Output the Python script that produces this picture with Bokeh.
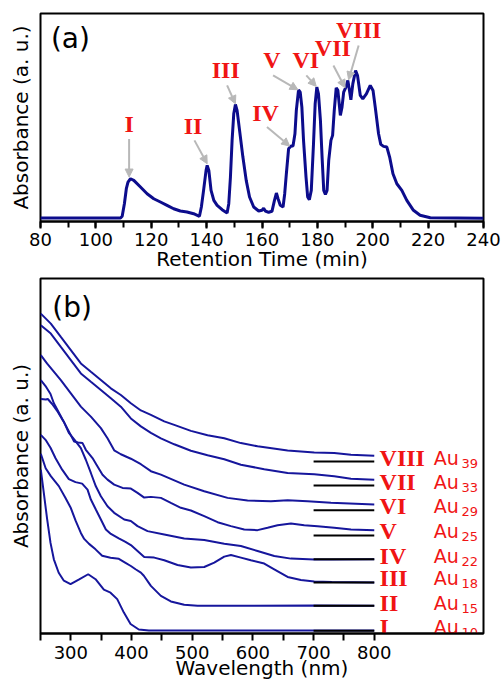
from bokeh.plotting import figure
from bokeh.layouts import column
from bokeh.models import (ColumnDataSource, Arrow, NormalHead, FixedTicker,
                          SingleIntervalTicker, Range1d)
from bokeh.core.properties import value
from bokeh.embed import file_html
from bokeh.resources import INLINE

# ---------------- (a) chromatogram ----------------
retention_time = [80, 108.9, 109.5, 110.3, 111.0, 111.6, 112.5, 113.7, 116.1, 118.5, 120.9,
                  123.3, 125.7, 128.1, 130.5, 132.9, 135.3, 137.4, 138.1, 138.9, 139.8, 140.2,
                  140.8, 141.6, 142.6, 143.8, 145.6, 147.4, 148.0, 148.6, 149.2, 149.8, 150.4,
                  151.0, 151.9, 153.1, 154.3, 155.5, 157.0, 158.8, 160.0, 160.6, 161.2, 162.4,
                  163.6, 164.5, 165.2, 165.8, 166.6, 167.6, 168.2, 168.8, 169.6, 170.5, 171.2,
                  171.9, 172.4, 173.2, 173.8, 174.4, 175.0, 175.9, 176.5, 177.1, 177.8, 178.6,
                  179.2, 179.8, 180.4, 181.1, 181.7, 182.3, 182.9, 183.5, 184.1, 184.9, 185.5,
                  186.1, 186.8, 187.4, 188.3, 188.9, 189.5, 190.3, 191.0, 191.6, 192.1, 192.8,
                  193.8, 194.5, 195.5, 196.4, 197.7, 199.1, 200.1, 200.9, 202.1, 202.9, 203.9,
                  205.1, 206.1, 207.3, 208.7, 210.5, 212.3, 214.7, 217.1, 220.8, 240]
absorbance_a = [0, 0, 1.7, 14.3, 29.3, 36, 39.3, 37.7, 31, 24.3, 19.3,
                16, 12.7, 9.3, 7, 6, 4.3, 1.7, 11, 27.7, 47.7, 52.7,
                47.7, 27.7, 17.7, 12.7, 8.3, 5, 14.3, 41, 77.7, 104.3, 113.7,
                107.7, 87.7, 61, 37.7, 21, 11, 7, 7.7, 9.7, 7, 5.7,
                6.7, 17.7, 25, 19.3, 12.7, 11, 24.3, 44.3, 69.3, 72, 72,
                84.3, 107.7, 128.3, 126, 111, 77.7, 41, 21, 18.3, 27.7, 74.3,
                114.3, 131, 124.3, 97.7, 61, 27.7, 23.7, 27.7, 57.7, 77.7, 82.7,
                107.7, 130.3, 127.7, 102.7, 111, 126, 131, 137.7, 127.7, 118.3, 134.3,
                147.7, 142.7, 122.7, 119.3, 124.3, 132.7, 127.7, 111, 84.3, 73.7, 71.7,
                71, 61, 44.3, 34.3, 27.7, 17.7, 7.7, 2.7, 0.3, -0.3]

fraction_names = ["I", "II", "III", "IV", "V", "VI", "VII", "VIII"]
# label anchors (a) and arrows (a)
frac_label_x = [112.0, 135.1, 146.9, 161.3, 163.6, 175.8, 185.6, 194.9]
frac_label_y = [94.0, 92.3, 147.7, 105.3, 157.7, 157.7, 170.0, 188.5]
arrow_x0 = [112.0, 135.6, 147.4, 161.8, 164.0, 176.0, 185.8, 194.9]
arrow_y0 = [79.0, 77.7, 132.7, 91.0, 142.7, 142.7, 152.7, 172.7]
arrow_x1 = [112.0, 140.2, 150.4, 170.0, 173.0, 179.6, 190.0, 191.3]
arrow_y1 = [41.0, 54.3, 114.3, 72.0, 128.3, 131.7, 130.3, 138.3]

# ---------------- (b) UV-vis spectra ----------------
wl_I = [250.5, 255.5, 261, 266.5, 272, 280, 288.5, 299.5, 313, 328.6, 340.7, 354.4, 365.4,
        376.4, 387.4, 398.4, 412, 428.6, 500, 600, 700, 800]
ab_I = [164.5, 141, 114.5, 91, 74.5, 61, 53, 49.5, 54, 59.5, 54.5, 44, 41,
        34.5, 21, 9.5, 4, 3, 3, 3, 3, 3]

wl_II = [250.5, 258.5, 267, 280.2, 291.2, 300, 308, 316.5, 322, 330, 340.7, 351.6, 365.4,
         379.1, 390.1, 398.9, 406.6, 415.4, 420.3, 431.9, 448.4, 464.8, 486.8, 508.8, 600, 700, 800]
ab_II = [180.5, 166, 158, 148, 136, 126, 113, 101, 95, 90, 84.5, 78, 76,
         75, 71, 67.8, 64.5, 61.2, 58, 47.8, 37.8, 32.2, 28.8, 27.8, 27.8, 28, 27.8]

wl_III = [250.5, 258.3, 266.5, 274.8, 285.7, 296.7, 307.7, 318.6, 327.5, 333, 341.2, 349.5,
          357.7, 366, 379, 390, 398.9, 409.9, 420.9, 437.4, 453.9, 475.8, 497.8, 519.8, 536.3,
          552.8, 563.8, 580.2, 596.7, 618.7, 635.2, 657.2, 679.1, 701.1, 730, 800]
ab_III = [199.5, 194.5, 186.5, 176, 164.5, 155, 152, 150.5, 144.5, 134.5, 124.5, 114.5,
          104.5, 100, 95.5, 92, 88.8, 82.8, 76.8, 76.2, 73.5, 68.8, 66.2, 66.8, 71.2,
          77.2, 78.8, 76.2, 73.5, 70.2, 64.5, 56.8, 53.8, 52.2, 51.8, 51.2]

wl_IV = [250.5, 258.8, 262, 264.9, 267, 269.2, 278.6, 288.5, 296.7, 305.5, 316.5, 324.7, 333,
         341.2, 349.5, 360.4, 371.4, 387.9, 398.9, 409.9, 426.4, 453.9, 486.8, 519.8, 552.8,
         580.2, 607.7, 635.2, 662.7, 701.1, 730, 800]
ab_IV = [235.5, 235, 235.5, 233.5, 232, 230.5, 222.5, 212.5, 201.5, 195, 186.2, 174.5, 161.2,
         147.8, 137.8, 127.8, 121.2, 114.5, 113, 107.8, 102.8, 99.5, 95.5, 93.8, 90.2,
         87.8, 82.8, 77.8, 75.2, 74.2, 74.2, 74.5]

wl_V = [250.5, 258.3, 266.5, 272, 286.8, 305.4, 312, 319.3, 324.7, 335.7, 344, 352.2, 360.4,
        371.4, 385.2, 398.9, 409.9, 420.9, 431.9, 448.4, 464.8, 481.3, 497.8, 519.8, 541.8,
        563.8, 585.7, 607.7, 624.2, 640.7, 662.7, 684.6, 706.6, 734, 761.6, 800]
ab_V = [254.5, 248.5, 240.5, 231.2, 214.5, 192.8, 191.8, 191.2, 184.5, 176.2, 167.8, 159.5, 154.5,
        149.5, 146.2, 145.5, 141.2, 136.5, 137.2, 136.2, 131.2, 126.2, 123.5, 117.8, 111.8,
        107.8, 104.5, 103.8, 106.2, 108.8, 110.5, 108.8, 107.8, 106.2, 104.5, 103.8]

wl_VI = [250.5, 261, 269.2, 283.5, 300, 316.5, 333, 349.5, 360.4, 371.4, 382.4, 398.9, 415.4,
         431.9, 448.4, 486.8, 519.8, 558.3, 591.2, 629.7, 657.2, 690.1, 728.6, 800]
ab_VI = [279.5, 271, 265, 254.5, 241.2, 227.8, 217.8, 206.2, 196, 184, 180, 175.5, 170,
         163, 159.5, 149.5, 142.8, 136.2, 133.5, 132.8, 133.8, 132.8, 131.2, 129.5]

wl_VII = [250.5, 267, 283.5, 300, 316.5, 333, 349.5, 365.9, 382.4, 398.9, 415.4, 431.9, 448.4,
          470.4, 497.8, 525.3, 552.8, 580.2, 618.7, 657.2, 701.1, 734, 761.6, 800]
ab_VII = [309.5, 301.2, 287.8, 274.5, 261.2, 252.8, 244.5, 236.2, 227.8, 216, 208, 201.5, 196,
          190, 183.5, 179, 175, 169.5, 165, 161.2, 160, 157.8, 155.5, 154.5]

wl_VIII = [250.5, 267, 283.5, 300, 316.5, 333, 349.5, 365.9, 382.4, 398.9, 415.4, 431.9, 453.9,
           470.4, 497.8, 525.3, 552.8, 580.2, 607.7, 657.2, 701.1, 734, 761.6, 800]
ab_VIII = [321.2, 311.2, 297.8, 284.5, 271.2, 262.8, 254.5, 246.2, 239.5, 231.2, 224, 219.5, 213,
           209.5, 203.5, 199, 196, 191.2, 188, 183.8, 181.8, 181.2, 179.5, 178.5]

cluster_sizes = ["10", "15", "18", "22", "25", "29", "33", "39"]
zero_levels = [2.8, 27.8, 51.2, 74.5, 98.5, 123.8, 148.5, 172.8]
label_baseline = [6.5, 31.0, 55.7, 78.3, 103.3, 128.3, 152.3, 176.7]

wavelengths = [wl_I, wl_II, wl_III, wl_IV, wl_V, wl_VI, wl_VII, wl_VIII]
spectra = [ab_I, ab_II, ab_III, ab_IV, ab_V, ab_VI, ab_VII, ab_VIII]

# ---------------- styling ----------------
FONT = "DejaVu Sans"
SERIF = "Liberation Serif"
RED = "#f01414"
NAVY_A = "#0c0c8c"
NAVY_B = "#16169c"
GREY = "#b8b8b8"
W = 503
BORDER_L, BORDER_R = 40, 20


def style_common(p):
    p.outline_line_color = "black"
    p.outline_line_width = 2
    p.xgrid.visible = False
    p.ygrid.visible = False
    p.background_fill_color = "white"
    p.border_fill_color = "white"
    xa = p.xaxis[0]
    xa.axis_line_width = 2
    xa.major_tick_line_width = 2
    xa.minor_tick_line_width = 2
    xa.major_tick_in = 0
    xa.minor_tick_in = 0
    xa.major_tick_out = 7
    xa.minor_tick_out = 6
    xa.major_label_text_font = FONT
    xa.major_label_text_font_size = "18px"
    xa.major_label_text_color = "black"
    xa.axis_label_text_font = FONT
    xa.axis_label_text_font_size = "20px"
    xa.axis_label_text_font_style = "normal"
    xa.axis_label_text_color = "black"
    ya = p.yaxis[0]
    ya.ticker = FixedTicker(ticks=[])
    ya.axis_label = "Absorbance (a. u.)"
    ya.axis_label_text_font = FONT
    ya.axis_label_text_font_size = "20px"
    ya.axis_label_text_font_style = "normal"
    ya.axis_label_text_color = "black"
    ya.axis_line_color = None
    ya.major_tick_out = 0
    ya.minor_tick_out = 0
    ya.major_tick_in = 0
    ya.minor_tick_in = 0
    ya.major_label_standoff = 0
    ya.axis_label_standoff = 8


# ----- panel (a) -----
p1 = figure(width=W, height=276, title=None,
            x_range=Range1d(80, 240), y_range=Range1d(-3.5, 204.7),
            output_backend="svg", toolbar_location=None,
            min_border_left=BORDER_L, min_border_right=BORDER_R,
            min_border_top=13, min_border_bottom=55)
style_common(p1)
p1.xaxis[0].ticker = SingleIntervalTicker(interval=20, num_minor_ticks=2)
p1.xaxis[0].axis_label = "Retention Time (min)"
p1.xaxis[0].major_label_standoff = 4
p1.xaxis[0].axis_label_standoff = -2

p1.line(retention_time, absorbance_a, line_color=NAVY_A, line_width=3)

for i in range(len(fraction_names)):
    p1.add_layout(Arrow(end=NormalHead(size=8, fill_color=GREY, line_color=GREY),
                        x_start=arrow_x0[i], y_start=arrow_y0[i],
                        x_end=arrow_x1[i], y_end=arrow_y1[i],
                        line_color=GREY, line_width=2))

src_a = ColumnDataSource(dict(x=frac_label_x, y=frac_label_y, t=fraction_names))
p1.text(x="x", y="y", text="t", source=src_a, text_font=value(SERIF),
        text_font_style="bold", text_font_size="24px", text_color=RED,
        text_align="center", text_baseline="middle")
p1.text(x=[90.8], y=[179.2], text=["(a)"], text_font=value(FONT),
        text_font_size="28px", text_color="black",
        text_align="center", text_baseline="middle")

# ----- panel (b) -----
p2 = figure(width=W, height=406, title=None,
            x_range=Range1d(250, 980), y_range=Range1d(0, 356.5),
            output_backend="svg", toolbar_location=None,
            min_border_left=BORDER_L, min_border_right=BORDER_R,
            min_border_top=2, min_border_bottom=48)
style_common(p2)
p2.xaxis[0].ticker = FixedTicker(ticks=[300, 400, 500, 600, 700, 800],
                                 minor_ticks=[250, 350, 450, 550, 650, 750])
p2.xaxis[0].minor_tick_out = 7
p2.xaxis[0].axis_label = "Wavelength (nm)"
p2.xaxis[0].major_label_standoff = 5
p2.xaxis[0].axis_label_standoff = -6

for wl, ab in zip(wavelengths, spectra):
    p2.line(wl, ab, line_color=NAVY_B, line_width=2)

BASE_FROM, BASE_TO = 700, 800
p2.segment(x0=[BASE_FROM] * len(zero_levels), y0=zero_levels,
           x1=[BASE_TO] * len(zero_levels), y1=zero_levels,
           line_color="black", line_width=2)

NUM_X, AU_X, SUB_X, SUB_DROP = 808.7, 898.2, 943.8, 5.5
src_b = ColumnDataSource(dict(
    y=label_baseline,
    ysub=[v - SUB_DROP for v in label_baseline],
    num=fraction_names,
    au=["Au"] * len(cluster_sizes),
    sub=cluster_sizes,
    xn=[NUM_X] * len(cluster_sizes),
    xa=[AU_X] * len(cluster_sizes),
    xs=[SUB_X] * len(cluster_sizes),
))
p2.text(x="xn", y="y", text="num", source=src_b, text_font=value(SERIF),
        text_font_style="bold", text_font_size="24px", text_color=RED,
        text_align="left", text_baseline="alphabetic")
p2.text(x="xa", y="y", text="au", source=src_b, text_font=value(FONT),
        text_font_size="19px", text_color=RED,
        text_align="left", text_baseline="alphabetic")
p2.text(x="xs", y="ysub", text="sub", source=src_b, text_font=value(FONT),
        text_font_size="13px", text_color=RED,
        text_align="left", text_baseline="alphabetic")
p2.text(x=[302.2], y=[327.5], text=["(b)"], text_font=value(FONT),
        text_font_size="28px", text_color="black",
        text_align="center", text_baseline="middle")

layout = column(p1, p2)
open("out.html", "w").write(file_html(layout, INLINE))
